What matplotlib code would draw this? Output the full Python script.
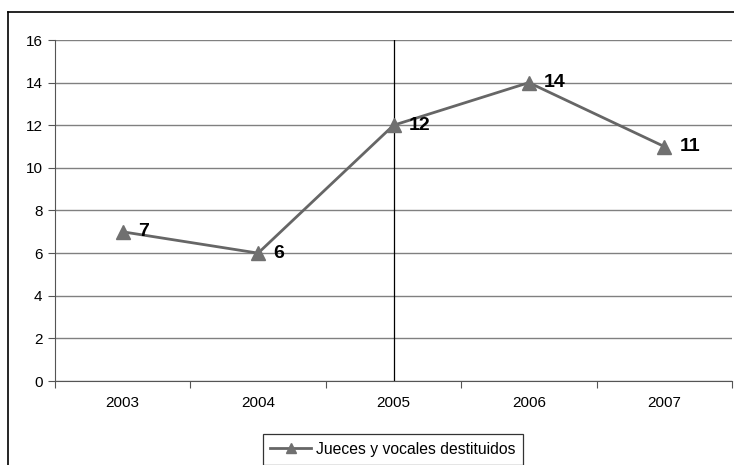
import matplotlib.pyplot as plt
from matplotlib.lines import Line2D

plt.rcParams['font.family'] = ['Liberation Sans', 'DejaVu Sans']

# Judges and members removed per year
years = ['2003', '2004', '2005', '2006', '2007']
removed = [7, 6, 12, 14, 11]
y_ticks = [0, 2, 4, 6, 8, 10, 12, 14, 16]

W, H = 734, 465
fig = plt.figure(figsize=(W / 100, H / 100), dpi=100)
ax = fig.add_axes([55 / W, 84 / H, 677 / W, 341 / H])

x = list(range(len(years)))
ax.plot(x, removed, color='#666666', lw=2, marker='^', markersize=10,
        markerfacecolor='#707070', markeredgecolor='#707070',
        label='Jueces y vocales destituidos', zorder=3)

for xi, v in zip(x, removed):
    ax.annotate(str(v), (xi, v), xytext=(11, 0), textcoords='offset points',
                va='center', ha='left', fontsize=14, fontweight='bold')

# vertical marker line at 2005
ax.axvline(2, color='black', lw=0.9, zorder=2)

ax.set_xlim(-0.5, len(years) - 0.5)
ax.set_ylim(0, 16)
ax.set_yticks(y_ticks)
ax.yaxis.grid(True, color='#808080', lw=1)
ax.set_axisbelow(True)

ax.set_xticks([i - 0.5 for i in range(len(years) + 1)])
ax.set_xticklabels([])
ax.set_xticks(x, minor=True)
ax.set_xticklabels(years, minor=True)
ax.tick_params(axis='x', which='minor', length=0, pad=11, labelsize=11)
ax.tick_params(axis='x', which='major', length=5, direction='out', color='#555555')
ax.tick_params(axis='y', length=5, direction='out', color='#555555', labelsize=11, pad=4)

for s in ['top', 'right']:
    ax.spines[s].set_visible(False)
for s in ['left', 'bottom']:
    ax.spines[s].set_color('#555555')

leg = ax.legend(loc='upper center', bbox_to_anchor=(393 / W, 1 - 434 / H),
                bbox_transform=fig.transFigure, fancybox=False, frameon=True,
                fontsize=11.3, handlelength=2.6, handletextpad=0.3, borderpad=0.5,
                borderaxespad=0)
leg.get_frame().set_edgecolor('black')
leg.get_frame().set_linewidth(0.9)
leg.legend_handles[0].set_markersize(7)

# outer chart border
fig.add_artist(Line2D([8 / W, 8 / W], [0, 1 - 12 / H], color='black', lw=1.2,
                      transform=fig.transFigure))
fig.add_artist(Line2D([8 / W, 1], [1 - 12 / H, 1 - 12 / H], color='black', lw=1.2,
                      transform=fig.transFigure))

fig.savefig('out.png', dpi=100)
